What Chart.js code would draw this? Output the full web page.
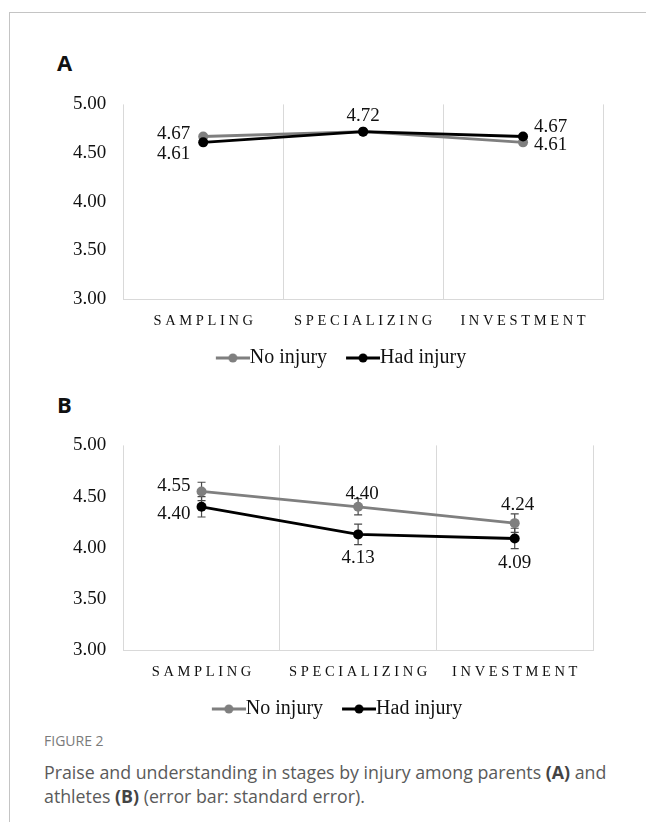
<!DOCTYPE html>
<html>
<head>
<meta charset="utf-8">
<script src="https://cdn.jsdelivr.net/npm/chart.js@4.4.1/dist/chart.umd.min.js"></script>
<style>
  html, body { margin: 0; padding: 0; background: #fff; }
  body { width: 646px; height: 822px; position: relative; overflow: hidden; }
  .frame { position: absolute; left: 9px; top: 12px; right: 0; bottom: 0;
    border-left: 1px solid #c4c4c4; border-top: 1px solid #c4c4c4; }
  .panel { position: absolute; font-family: "Open Sans", "Noto Sans", sans-serif;
    font-weight: 700; font-size: 22px; line-height: 24px; color: #111; }
  .box { position: absolute; }
  .fig-head { position: absolute; left: 44px; top: 732px; font-family: "Open Sans", sans-serif;
    font-size: 14px; line-height: 18px; color: #7a7a7a; }
  .caption { position: absolute; left: 44px; top: 760px; width: 600px;
    font-family: "Open Sans", sans-serif; font-size: 17.8px; line-height: 24px; color: #5a5a5a; }
  .caption b { color: #444; }
</style>
</head>
<body>
<div class="frame"></div>
<div class="panel" style="left:57px; top:50px;">A</div>
<div class="box" style="left:44px; top:76px; width:571px; height:302px;"><canvas id="chart-a"></canvas></div>
<div class="panel" style="left:57px; top:392px;">B</div>
<div class="box" style="left:44px; top:417px; width:563px; height:312px;"><canvas id="chart-b"></canvas></div>
<div class="fig-head">FIGURE 2</div>
<div class="caption">Praise and understanding in stages by injury among parents <b>(A)</b> and athletes <b>(B)</b> (error bar: standard error).</div>

<script>
const stages = ['SAMPLING', 'SPECIALIZING', 'INVESTMENT'];
const yTicks = [3.0, 3.5, 4.0, 4.5, 5.0];
const seriesNames = ['No injury', 'Had injury'];

// (A) parents
const parentsNoInjury = [4.67, 4.72, 4.61];
const parentsHadInjury = [4.61, 4.72, 4.67];

// (B) athletes, with standard errors
const athletesNoInjury = [4.55, 4.40, 4.24];
const athletesHadInjury = [4.40, 4.13, 4.09];
const athletesNoInjurySE = [0.09, 0.08, 0.09];
const athletesHadInjurySE = [0.10, 0.10, 0.10];

const GRAY = '#7f7f7f';
const BLACK = '#000000';
const SERIF = '"Liberation Serif", "Times New Roman", serif';

Chart.defaults.font.family = SERIF;
Chart.defaults.font.size = 19;
Chart.defaults.color = '#111';

// line-with-dot legend symbol; the transparent left margin spaces the items apart
const legendMarker = (color) => {
  const c = document.createElement('canvas');
  c.width = 59;
  c.height = 12;
  const g = c.getContext('2d');
  g.strokeStyle = color;
  g.lineWidth = 3;
  g.beginPath();
  g.moveTo(25, 6);
  g.lineTo(59, 6);
  g.stroke();
  g.fillStyle = color;
  g.beginPath();
  g.arc(42, 6, 4.5, 0, Math.PI * 2);
  g.fill();
  return c;
};

const errorBars = {
  id: 'errorBars',
  beforeDatasetsDraw(chart) {
    const ctx = chart.ctx;
    const y = chart.scales.y;
    ctx.save();
    ctx.strokeStyle = '#4a4a4a';
    ctx.lineWidth = 1.2;
    chart.data.datasets.forEach((ds, i) => {
      if (!ds.errors) return;
      const meta = chart.getDatasetMeta(i);
      ds.errors.forEach((e, j) => {
        const x = meta.data[j].x;
        const top = y.getPixelForValue(ds.data[j] + e);
        const bottom = y.getPixelForValue(ds.data[j] - e);
        ctx.beginPath();
        ctx.moveTo(x, top);
        ctx.lineTo(x, bottom);
        ctx.moveTo(x - 4, top);
        ctx.lineTo(x + 4, top);
        ctx.moveTo(x - 4, bottom);
        ctx.lineTo(x + 4, bottom);
        ctx.stroke();
      });
    });
    ctx.restore();
  },
};

const pointLabels = {
  id: 'pointLabels',
  afterDatasetsDraw(chart) {
    const ctx = chart.ctx;
    ctx.save();
    ctx.font = '19px ' + SERIF;
    ctx.fillStyle = '#111';
    ctx.textBaseline = 'middle';
    chart.data.datasets.forEach((ds, i) => {
      const meta = chart.getDatasetMeta(i);
      ds.labelPos.forEach((pos, j) => {
        if (!pos) return;
        const pt = meta.data[j];
        ctx.textAlign = pos[2];
        ctx.fillText(ds.data[j].toFixed(2), pt.x + pos[0], pt.y + pos[1]);
      });
    });
    ctx.restore();
  },
};

const makeChart = (id, noInjury, hadInjury, labelPos, errors, rightGap) => {
  const series = [
    { values: noInjury, color: GRAY, order: 2 },
    { values: hadInjury, color: BLACK, order: 1 },
  ];

  return new Chart(document.getElementById(id), {
    type: 'line',
    data: {
      labels: stages,
      datasets: series.map((s, i) => ({
        label: seriesNames[i],
        data: s.values,
        borderColor: s.color,
        backgroundColor: s.color,
        borderWidth: 2.8,
        pointRadius: 5,
        pointBorderWidth: 0,
        pointBackgroundColor: s.color,
        tension: 0,
        order: s.order,
        labelPos: labelPos[i],
        errors: errors ? errors[i] : null,
      })),
    },
    options: {
      responsive: true,
      maintainAspectRatio: false,
      animation: false,
      layout: {
        padding: { left: 12, right: 4, top: 0, bottom: 0 },
      },
      plugins: {
        tooltip: { enabled: false },
        legend: {
          position: 'bottom',
          labels: {
            usePointStyle: true,
            pointStyleWidth: 39,
            padding: 4,
            color: '#111',
            font: { size: 20, family: SERIF },
            generateLabels: (chart) =>
              chart.data.datasets.map((ds, i) => ({
                text: ds.label,
                pointStyle: legendMarker(ds.borderColor),
                fillStyle: ds.borderColor,
                strokeStyle: ds.borderColor,
                lineWidth: 0,
                hidden: false,
                datasetIndex: i,
                fontColor: '#111',
              })),
          },
        },
      },
      scales: {
        x: {
          offset: true,
          grid: { display: true, offset: true, color: '#d9d9d9', drawTicks: false },
          border: { display: true, color: '#d9d9d9' },
          ticks: {
            padding: 13.8,
            maxRotation: 0,
            autoSkip: false,
            color: '#111',
            font: { size: 14.5, family: SERIF },
            callback: function (value) {
              return this.getLabelForValue(value).split('').join(' ');
            },
          },
        },
        y: {
          min: yTicks[0],
          max: yTicks[yTicks.length - 1],
          grid: { display: false, drawTicks: false },
          border: { display: false },
          afterBuildTicks: (scale) => {
            scale.ticks = yTicks.map((v) => ({ value: v }));
          },
          ticks: {
            padding: 17,
            color: '#111',
            font: { size: 19, family: SERIF },
            callback: (value) => Number(value).toFixed(2),
          },
        },
        // empty strip on the right so the legend sits where it does in the figure
        gap: {
          type: 'linear',
          position: 'right',
          grid: { display: false, drawTicks: false },
          border: { display: false },
          ticks: { display: false },
          afterFit: (scale) => {
            scale.width = rightGap;
          },
        },
      },
    },
    plugins: [errorBars, pointLabels],
  });
};

// label offsets from each point: [dx, dy, align]
makeChart(
  'chart-a',
  parentsNoInjury,
  parentsHadInjury,
  [
    [[-13, -2, 'right'], [0, -16, 'center'], [11, 3, 'left']],
    [[-13, 12, 'right'], null, [11, -9, 'left']],
  ],
  null,
  8
);

makeChart(
  'chart-b',
  athletesNoInjury,
  athletesHadInjury,
  [
    [[-11, -5, 'right'], [4, -13, 'center'], [3, -18, 'center']],
    [[-11, 7, 'right'], [0, 24, 'center'], [0, 25, 'center']],
  ],
  [athletesNoInjurySE, athletesHadInjurySE],
  10
);
</script>
</body>
</html>
